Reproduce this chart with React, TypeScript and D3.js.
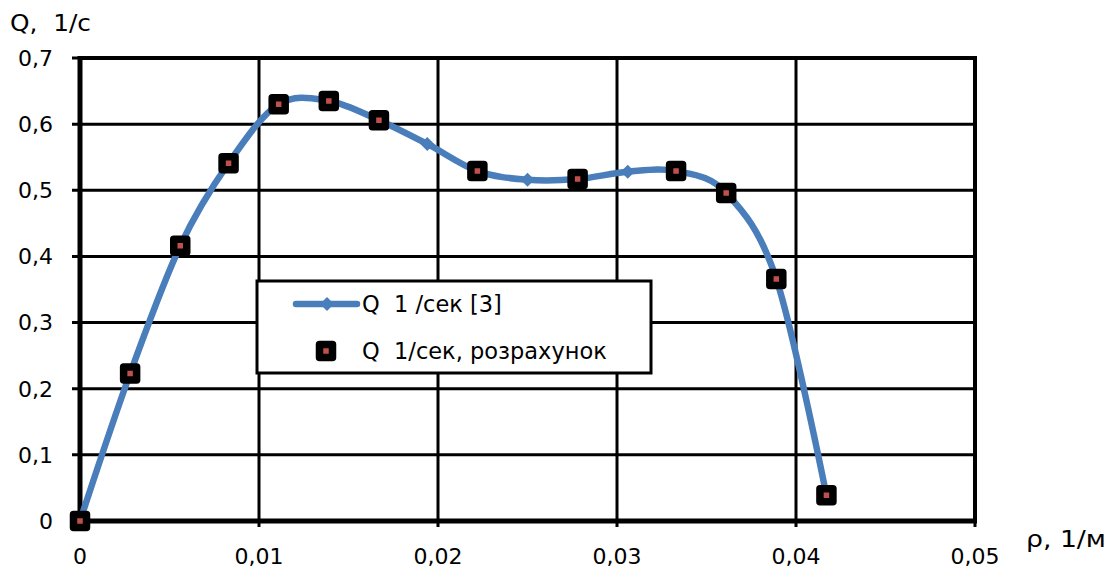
import React from "react";
import * as d3 from "d3";

// Curvature rho (1/m) and flow Q (1/s), source series [3]
const rhoRef = [0, 0.0028, 0.0056, 0.0083, 0.0111, 0.0139, 0.0167, 0.0194, 0.0222, 0.025, 0.0278, 0.0306, 0.0333, 0.0361, 0.0389, 0.0417];
const qRef = [0, 0.223, 0.416, 0.541, 0.63, 0.635, 0.606, 0.57, 0.529, 0.516, 0.517, 0.528, 0.529, 0.496, 0.366, 0.039];

// Calculated points
const rhoCalc = [0, 0.0028, 0.0056, 0.0083, 0.0111, 0.0139, 0.0167, 0.0222, 0.0278, 0.0333, 0.0361, 0.0389, 0.0417];
const qCalc = [0, 0.223, 0.416, 0.541, 0.63, 0.635, 0.606, 0.529, 0.517, 0.529, 0.496, 0.366, 0.039];

const xTicks = [0, 0.01, 0.02, 0.03, 0.04, 0.05];
const yTicks = [0, 0.1, 0.2, 0.3, 0.4, 0.5, 0.6, 0.7];

const seriesRefName = "Q  1 /сек [3]";
const seriesCalcName = "Q  1/сек, розрахунок";
const yTitle = "Q,  1/с";
const xTitle = "ρ, 1/м";

const W = 1118;
const H = 571;
const BLUE = "#4A7EBB";
const RED = "#C0504D";
const FONT = "'DejaVu Sans', sans-serif";

const fmt = (v: number) => (v === 0 ? "0" : d3.format(".2~f")(v).replace(".", ","));

export default function App() {
  const x = d3.scaleLinear().domain([0, 0.05]).range([80, 975]);
  const y = d3.scaleLinear().domain([0, 0.7]).range([521, 58]);

  const refPts: [number, number][] = rhoRef.map((r, i) => [x(r), y(qRef[i])]);
  const line = d3.line().curve(d3.curveCardinal.tension(0))(refPts) || "";

  const diamond = (cx: number, cy: number, s: number) =>
    `M${cx},${cy - s}L${cx + s},${cy}L${cx},${cy + s}L${cx - s},${cy}Z`;

  const calcMarker = (cx: number, cy: number, key: string) => (
    <rect
      key={key}
      x={cx - 6.5}
      y={cy - 6.5}
      width={13}
      height={13}
      fill={RED}
      stroke="#000"
      strokeWidth={7.5}
      strokeLinejoin="round"
    />
  );

  const tickSize = 22;
  const legendSize = 22.5;

  return (
    <svg
      width={W}
      height={H}
      style={{ position: "absolute", left: 0, top: 0, background: "#fff" }}
      fontFamily={FONT}
    >
      <rect x={0} y={0} width={W} height={H} fill="#fff" />

      {/* grid */}
      {yTicks.map((t) => (
        <line key={`gy${t}`} x1={72} x2={975} y1={y(t)} y2={y(t)} stroke="#000" strokeWidth={3} />
      ))}
      {xTicks.map((t) => (
        <line key={`gx${t}`} x1={x(t)} x2={x(t)} y1={58} y2={527} stroke="#000" strokeWidth={3} />
      ))}
      {/* frame */}
      <line x1={80} x2={977} y1={58} y2={58} stroke="#000" strokeWidth={4} />
      <line x1={975} x2={975} y1={56} y2={523} stroke="#000" strokeWidth={4} />
      {/* axes */}
      <line x1={80} x2={80} y1={56} y2={524} stroke="#000" strokeWidth={5} />
      <line x1={78} x2={977} y1={521} y2={521} stroke="#000" strokeWidth={5} />

      {/* y tick labels */}
      {yTicks.map((t) => (
        <text
          key={`ly${t}`}
          x={53}
          y={y(t)}
          dy="0.36em"
          textAnchor="end"
          fontSize={tickSize}
          fill="#000"
        >
          {fmt(t)}
        </text>
      ))}
      {/* x tick labels */}
      {xTicks.map((t) => (
        <text key={`lx${t}`} x={x(t)} y={564} textAnchor="middle" fontSize={tickSize} fill="#000">
          {fmt(t)}
        </text>
      ))}

      {/* axis titles */}
      <text
        x={10}
        y={31}
        fontSize={23}
        fill="#000"
        style={{ whiteSpace: "pre" }}
        textLength={81}
        lengthAdjust="spacingAndGlyphs"
      >
        {yTitle}
      </text>
      <text
        x={1026}
        y={547}
        fontSize={23}
        fill="#000"
        style={{ whiteSpace: "pre" }}
        textLength={80}
        lengthAdjust="spacingAndGlyphs"
      >
        {xTitle}
      </text>

      {/* reference series */}
      <path d={line} fill="none" stroke={BLUE} strokeWidth={6.5} strokeLinejoin="round" />
      {refPts.map(([cx, cy], i) => (
        <path key={`d${i}`} d={diamond(cx, cy, 7)} fill={BLUE} />
      ))}

      {/* calculated series */}
      {rhoCalc.map((r, i) => calcMarker(x(r), y(qCalc[i]), `c${i}`))}

      {/* legend */}
      <rect x={257} y={281} width={394} height={92} fill="#fff" stroke="#000" strokeWidth={3} />
      <line x1={296} x2={357} y1={304} y2={304} stroke={BLUE} strokeWidth={6.5} strokeLinecap="round" />
      <path d={diamond(327, 304, 7)} fill={BLUE} />
      <text x={362} y={304} dy="0.36em" fontSize={legendSize} fill="#000" style={{ whiteSpace: "pre" }}>
        {seriesRefName}
      </text>
      {calcMarker(326, 351, "legend-calc")}
      <text x={362} y={351} dy="0.36em" fontSize={legendSize} fill="#000" style={{ whiteSpace: "pre" }}>
        {seriesCalcName}
      </text>
    </svg>
  );
}
